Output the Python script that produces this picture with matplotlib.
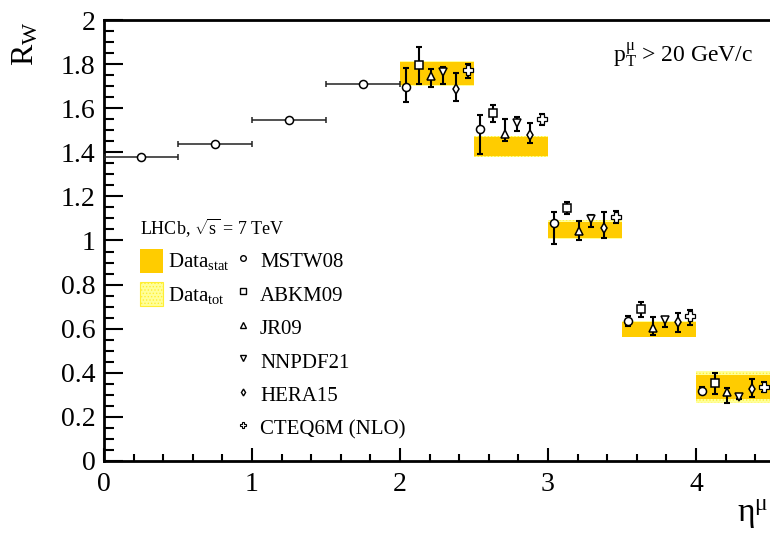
import numpy as np
import matplotlib
matplotlib.use("Agg")
import matplotlib.pyplot as plt
from matplotlib.ticker import MultipleLocator, FuncFormatter
from matplotlib.patches import Patch
from matplotlib.lines import Line2D

plt.rcParams['font.family'] = ['Liberation Serif', 'DejaVu Serif']
plt.rcParams['mathtext.fontset'] = 'custom'
plt.rcParams['mathtext.rm'] = 'Liberation Serif'
plt.rcParams['mathtext.it'] = 'Liberation Serif:italic'
plt.rcParams['hatch.linewidth'] = 0.6

# --- data -------------------------------------------------------------
# low-eta prediction points (horizontal bins)
low_eta = [0.25, 0.75, 1.25, 1.75]
low_rw = [1.379, 1.438, 1.548, 1.708]
low_xerr = [0.25, 0.25, 0.25, 0.25]

# LHCb measurement, eta bins 2.0 - 4.5
bin_lo = [2.0, 2.5, 3.0, 3.5, 4.0]
bin_w = 0.5
data_val = [1.757, 1.428, 1.048, 0.598, 0.337]
data_stat = [0.053, 0.043, 0.038, 0.034, 0.055]
data_tot = [0.058, 0.048, 0.043, 0.037, 0.073]

# theory predictions per PDF set: value, upper error, lower error
pdf_names = ['MSTW08', 'ABKM09', 'JR09', 'NNPDF21', 'HERA15', 'CTEQ6M (NLO)']
mstw08 = [1.696, 1.507, 1.078, 0.635, 0.317]
mstw08_up = [0.088, 0.064, 0.053, 0.023, 0.018]
mstw08_dn = [0.067, 0.116, 0.095, 0.021, 0.012]
abkm09 = [1.796, 1.577, 1.149, 0.688, 0.352]
abkm09_up = [0.080, 0.036, 0.027, 0.034, 0.048]
abkm09_dn = [0.086, 0.040, 0.029, 0.036, 0.050]
jr09 = [1.747, 1.484, 1.044, 0.605, 0.311]
jr09_up = [0.029, 0.067, 0.046, 0.047, 0.019]
jr09_dn = [0.052, 0.031, 0.042, 0.034, 0.047]
nnpdf21 = [1.763, 1.531, 1.098, 0.639, 0.289]
nnpdf21_up = [0.025, 0.028, 0.019, 0.015, 0.008]
nnpdf21_dn = [0.055, 0.034, 0.035, 0.033, 0.008]
hera15 = [1.689, 1.480, 1.058, 0.629, 0.327]
hera15_up = [0.069, 0.051, 0.071, 0.044, 0.043]
hera15_dn = [0.055, 0.038, 0.048, 0.044, 0.038]
cteq6m = [1.775, 1.550, 1.108, 0.656, 0.334]
cteq6m_up = [0.024, 0.024, 0.027, 0.029, 0.026]
cteq6m_dn = [0.037, 0.026, 0.030, 0.038, 0.023]

theory = [(mstw08, mstw08_up, mstw08_dn), (abkm09, abkm09_up, abkm09_dn),
          (jr09, jr09_up, jr09_dn), (nnpdf21, nnpdf21_up, nnpdf21_dn),
          (hera15, hera15_up, hera15_dn), (cteq6m, cteq6m_up, cteq6m_dn)]
markers = ['o', 's', '^', 'v', 'd', 'P']
msizes = [5.8, 5.2, 6, 6, 5, 7]
mews = [1.1, 1.1, 1.1, 1.1, 1.1, 0.9]

STAT_COL = '#ffcc00'
TOT_COL = '#ffff99'

# --- figure -----------------------------------------------------------
fig = plt.figure(figsize=(7.7, 5.33), dpi=100)
ax = fig.add_axes([104/770, 72/533, 666/770, 441/533])

centers = np.array(bin_lo) + bin_w/2
vals = np.array(data_val)
ax.bar(centers, 2*np.array(data_tot), bottom=vals - np.array(data_tot), width=bin_w,
       color=TOT_COL, edgecolor='#ffee33', hatch='.....', linewidth=0, zorder=1)
ax.bar(centers, 2*np.array(data_stat), bottom=vals - np.array(data_stat), width=bin_w,
       color=STAT_COL, linewidth=0, zorder=2)

# low eta points
ax.errorbar(low_eta, low_rw, xerr=low_xerr, fmt='none', ecolor='#222222',
            elinewidth=1.1, capsize=2.2, capthick=1.1, zorder=3)
ax.plot(low_eta, low_rw, 'o', ms=5.8, mfc='white', mec='black', mew=1.1, zorder=4)

for i, (v, up, dn) in enumerate(theory):
    xs = np.array(bin_lo) + (i + 0.5) * bin_w / 6
    ax.errorbar(xs, v, yerr=[dn, up], fmt='none', ecolor='black',
                elinewidth=1.5, capsize=1.9, capthick=1.5, zorder=3)
    ax.plot(xs, v, markers[i], ms=msizes[i], mfc='white', mec='black',
            mew=mews[i], zorder=4)

ax.set_xlim(0, 4.5)
ax.set_ylim(0, 2)
ax.xaxis.set_major_locator(MultipleLocator(1))
ax.xaxis.set_minor_locator(MultipleLocator(0.2))
ax.yaxis.set_major_locator(MultipleLocator(0.2))
ax.yaxis.set_minor_locator(MultipleLocator(0.05))
fmt = FuncFormatter(lambda v, _: f'{v:g}')
ax.xaxis.set_major_formatter(fmt)
ax.yaxis.set_major_formatter(fmt)

ax.tick_params(which='both', direction='in', top=False, right=False, width=1.5,
               labelsize=20)
ax.tick_params(axis='y', which='major', length=13.5, pad=6)
ax.tick_params(axis='y', which='minor', length=7)
ax.tick_params(axis='x', which='major', length=9.5, pad=8)
ax.tick_params(axis='x', which='minor', length=5)
for s in ['left', 'bottom', 'top']:
    ax.spines[s].set_linewidth(2)
ax.spines['right'].set_visible(False)

fig.text(26/770, 1 - 21/533, r'R$_{\mathrm{W}}$', rotation=90, fontsize=23,
         ha='center', va='top')
fig.text(768/770, 1 - 531/533, r'$\mathrm{\eta}^{\mathrm{\mu}}$', fontsize=24,
         ha='right', va='bottom')
ax.text(0.765, 0.92, r'p$_{\mathrm{T}}^{\mathrm{\mu}}$ > 20 GeV/c', fontsize=17,
        transform=ax.transAxes, ha='left', va='center')

# legend
handles = [Patch(facecolor=STAT_COL, edgecolor=STAT_COL, linewidth=0),
           Patch(facecolor=TOT_COL, edgecolor='#ffee33', hatch='.....', linewidth=0.8)]
labels = [r'Data$_{\mathrm{stat}}$', r'Data$_{\mathrm{tot}}$']
blank = Line2D([], [], linestyle='none')
handles += [blank] * 4
labels += [''] * 4
for m, ms, mw, name in zip(markers, msizes, mews, pdf_names):
    handles.append(Line2D([], [], linestyle='none', marker=m, ms=ms*0.7,
                          mfc='white', mec='black', mew=mw*0.9))
    labels.append(name)
leg = ax.legend(handles, labels, ncol=2, loc='upper left',
                bbox_to_anchor=(0.054, 0.555), frameon=False, fontsize=15,
                title=r'LHCb, $\sqrt{\mathrm{s}}$ = 7 TeV', title_fontsize=13,
                alignment='left', handlelength=1.1, handleheight=1.4,
                handletextpad=0.25, labelspacing=0.45, columnspacing=0.1,
                borderpad=0, borderaxespad=0)

fig.savefig('out.png', dpi=100)
